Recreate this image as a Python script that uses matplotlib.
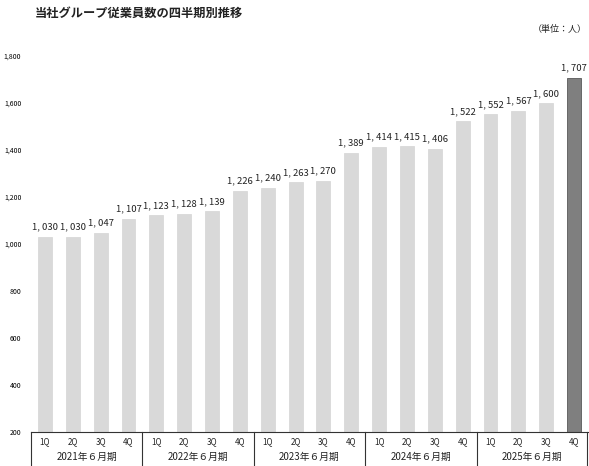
import matplotlib
matplotlib.use("Agg")
import matplotlib.pyplot as plt

plt.rcParams["font.family"] = ["Noto Sans CJK JP", "DejaVu Sans"]

quarters = ["1Q", "2Q", "3Q", "4Q"] * 5
years = ["2021年６月期", "2022年６月期", "2023年６月期", "2024年６月期", "2025年６月期"]
employees = [1030, 1030, 1047, 1107,
             1123, 1128, 1139, 1226,
             1240, 1263, 1270, 1389,
             1414, 1415, 1406, 1522,
             1552, 1567, 1600, 1707]
yticks = [200, 400, 600, 800, 1000, 1200, 1400, 1600, 1800]

fig = plt.figure(figsize=(5.89, 4.66), dpi=100)
ax = fig.add_axes([31 / 589, 1 - 432 / 466, 557 / 589, (432 - 56) / 466])

x = list(range(len(employees)))
colors = ["#d9d9d9"] * (len(employees) - 1) + ["#7f7f7f"]
edges = ["#d9d9d9"] * (len(employees) - 1) + ["#595959"]
ax.bar(x, [v - 200 for v in employees], bottom=200, width=0.5,
       color=colors, edgecolor=edges, linewidth=0.6)

for xi, v in zip(x, employees):
    ax.text(xi, v + 22, f"{v:,}".replace(",", ", "), ha="center", va="bottom",
            fontsize=6.8, color="#222222")

ax.set_xlim(-0.5, len(employees) - 0.5)
ax.set_ylim(200, 1800)
ax.set_yticks(yticks)
ax.set_yticklabels([f"{t:,}" for t in yticks], fontsize=5)
ax.tick_params(axis="y", length=0, pad=7)
ax.set_xticks([])
for s in ["top", "right", "left"]:
    ax.spines[s].set_visible(False)
ax.spines["bottom"].set_color("#333333")
ax.spines["bottom"].set_linewidth(0.8)

# category labels under the axis
for xi, q in zip(x, quarters):
    ax.text(xi, -0.025, q, transform=ax.get_xaxis_transform(), ha="center",
            va="center", fontsize=5.8, color="#222222")
for i, yr in enumerate(years):
    ax.text(i * 4 + 1.5, -0.066, yr, transform=ax.get_xaxis_transform(),
            ha="center", va="center", fontsize=7, color="#222222")
for b in [-0.5, 3.5, 7.5, 11.5, 15.5, 19.45]:
    ax.plot([b, b], [0, -0.1], transform=ax.get_xaxis_transform(),
            color="#333333", linewidth=0.8, clip_on=False)

fig.text(139 / 589, 1 - 13 / 466, "当社グループ従業員数の四半期別推移", ha="center",
         va="center", fontsize=8.8, fontweight="bold", color="#222222")
fig.text(587 / 589, 1 - 29 / 466, "（単位：人）", ha="right", va="center",
         fontsize=6.5, color="#222222")

fig.savefig("out.png", dpi=100, facecolor="white")
